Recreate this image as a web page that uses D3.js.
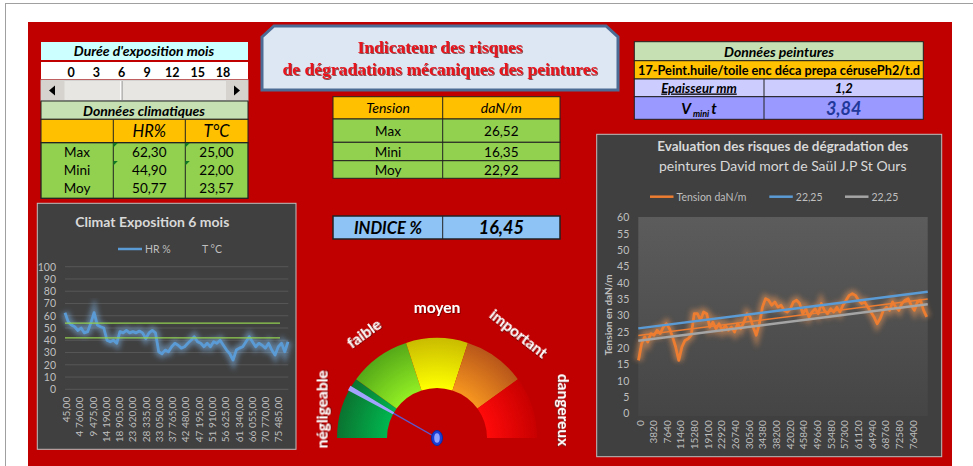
<!DOCTYPE html>
<html>
<head>
<meta charset="utf-8">
<script src="https://cdn.jsdelivr.net/npm/d3@7"></script>
<style>
  body { margin: 0; background: #fff; }
  svg text { font-family: Lato, "Noto Sans", sans-serif; }
  svg text.serif { font-family: "Liberation Serif", "DejaVu Serif", serif; }
</style>
</head>
<body>
<svg id="dash" width="973" height="466"></svg>
<script>
// ---- data ----
const expoMonths = [0, 3, 6, 9, 12, 15, 18];
const expoSelected = 6;

const climRows = ["Max", "Mini", "Moy"];
const climHR = [62.30, 44.90, 50.77];
const climT = [25.00, 22.00, 23.57];

const tensionRows = ["Max", "Mini", "Moy"];
const tensionVals = [26.52, 16.35, 22.92];
const indice = 16.45;

const paintName = "17-Peint.huile/toile enc déca prepa cérusePh2/t.d";
const epaisseur = 1.2;
const vMini = 3.84;

// climate chart (HR %)
const hrTicks = [45, 4760, 9475, 14190, 18905, 23620, 28335, 33050, 37765, 42480,
                 47195, 51910, 56625, 61340, 66055, 70770, 75485];
const hrSeries = [62.5, 55, 52.5, 51, 48, 50, 46, 47, 54, 62.5, 52.5, 51, 50, 40, 38.8, 40,
                  37.5, 47, 46, 48, 46, 47, 46, 47.5, 46, 41.5, 46, 48, 46, 30.6, 29, 32, 30.6,
                  34.7, 37.5, 36, 33.6, 34.7, 37.5, 40, 42.9, 38.8, 37.5, 34.7, 37.5, 34.7, 38.8,
                  37.5, 40, 36, 32, 29, 23.8, 32, 33.6, 34.7, 38.8, 42.9, 38.8, 34.7, 37.5, 36,
                  33.6, 37.5, 32, 27.9, 34.7, 37.5, 30.6, 38.8];
const hrLimits = [54, 42];

// tension chart
const tensionTicks = [0, 3820, 7640, 11460, 15280, 19100, 22920, 26740, 30560, 34380, 38200,
                      42020, 45840, 49660, 53480, 57300, 61120, 64940, 68760, 72580, 76400];
const tensionSeries = [16.2, 21.3, 23.4, 21.8, 24.4, 23.9, 25.4, 24.4, 26.4, 27.4, 25.9, 23.4,
                       20.3, 16.2, 20.3, 22.3, 22.8, 23.9, 30.5, 30.5, 28.5, 31, 30.5, 26.4, 27.9,
                       25.9, 27.4, 25.4, 26.9, 25.4, 26.4, 24.9, 27.4, 25.9, 27.9, 30.5, 29.5, 26.4,
                       23.9, 27.4, 32.5, 35.1, 34.6, 33.1, 34.1, 32.5, 33.1, 31.5, 31, 32, 34.1,
                       34.6, 33.6, 30.5, 32, 29.5, 31, 32, 30.5, 33.6, 31.5, 30.5, 32, 31, 32.5, 31,
                       33.1, 34.6, 36.1, 36.6, 36.1, 34.6, 33.6, 34.1, 32.5, 31, 29.5, 27.4, 29,
                       31.5, 32.5, 31.5, 34.1, 32.5, 31.5, 33.6, 34.6, 35.1, 33.1, 31.5, 34.1,
                       34.6, 31.5, 29.5];
const trendOrange = [23.8, 35.0];
const trendBlue = [26.0, 37.2];
const trendGray = [22.2, 33.4];
const trendName = "22,25";

const riskLabels = ["négligeable", "faible", "moyen", "important", "dangereux"];

// ---- helpers ----
const fr = d3.formatLocale({ decimal: ",", thousands: " ", grouping: [3], currency: ["", " €"] });
const f2 = fr.format(".2f");
const svg = d3.select("#dash");
const defs = svg.append("defs");

function label(x, y, s, o = {}) {
  return (o.g || svg).append("text")
    .attr("x", x).attr("y", y)
    .attr("text-anchor", o.anchor || "middle")
    .attr("font-size", o.size || 13)
    .attr("font-weight", o.weight || "normal")
    .attr("font-style", o.style || "normal")
    .attr("fill", o.fill || "#000")
    .text(s);
}
function box(x, y, w, h, fill, stroke, sw) {
  return svg.append("rect").attr("x", x).attr("y", y).attr("width", w).attr("height", h)
    .attr("fill", fill).attr("stroke", stroke || "none").attr("stroke-width", sw || 1);
}
function vline(x, y1, y2, c) {
  svg.append("line").attr("x1", x).attr("x2", x).attr("y1", y1).attr("y2", y2)
    .attr("stroke", c || "#222").attr("stroke-width", 1);
}

// glow filter for chart lines
defs.append("filter").attr("id", "glow").attr("x", "-10%").attr("y", "-30%")
  .attr("width", "120%").attr("height", "160%")
  .append("feGaussianBlur").attr("stdDeviation", 2.6);

// drop shadow for the red title and the gauge labels
defs.append("filter").attr("id", "tshadow")
  .append("feDropShadow").attr("dx", 1).attr("dy", 1).attr("stdDeviation", 0.5)
  .attr("flood-color", "#500000").attr("flood-opacity", 0.65);

// ---- background ----
svg.append("rect").attr("x", 5.5).attr("y", 3.5).attr("width", 1000).attr("height", 500)
  .attr("fill", "#fff").attr("stroke", "#a0a0a0");
box(28, 22, 924, 460, "#C00000");

// ---- exposure / climate table (top left) ----
box(41, 42, 207, 18, "#CCFFFF");
label(144, 56, "Durée d'exposition mois", { size: 14, weight: "bold", style: "italic" });
box(41, 62, 207, 17, "#fff");
const xMonth = d3.scaleLinear().domain([0, 18]).range([71, 223]);
svg.selectAll(".month").data(expoMonths).enter().append("text")
  .attr("x", d => xMonth(d)).attr("y", 77).attr("text-anchor", "middle")
  .attr("font-size", 12.5).attr("font-weight", "bold").text(d => d);

// scrollbar
box(41, 80, 207, 21, "#E8E6E3", "#BDBDBD");
box(41.5, 80.5, 23, 20, "#D6D3CE");
box(226, 80.5, 21.5, 20, "#D6D3CE");
svg.append("path").attr("d", "M49,90.5 l6,-5 v10 z").attr("fill", "#000");
svg.append("path").attr("d", "M240,90.5 l-6,-5 v10 z").attr("fill", "#000");
vline(xMonth(expoSelected) - 1, 81, 100, "#fff");
vline(xMonth(expoSelected) + 0.5, 81, 100, "#9E9E9E");

box(41, 101, 207, 18.3, "#C6E0B4", "#222");
label(144, 115.5, "Données climatiques", { size: 14, weight: "bold", style: "italic" });
box(41, 119.3, 207, 23.4, "#FFC000", "#222");
box(41, 142.7, 207, 55.6, "#92D050", "#222", 1.3);
vline(113.3, 119.3, 198.3);
vline(185.3, 119.3, 198.3);
label(149.3, 137, "HR%", { size: 16.5, style: "italic" });
label(216.5, 137, "T°C", { size: 16.5, style: "italic" });
climRows.forEach((r, i) => {
  const y = 156.7 + 18 * i;
  label(77, y, r, { size: 13.5 });
  label(149.3, y, f2(climHR[i]), { size: 13.5 });
  label(216.5, y, f2(climT[i]), { size: 13.5 });
});
[[113.3, 143], [185.3, 143], [113.3, 161], [185.3, 161]].forEach(([x, y]) =>
  svg.append("path").attr("d", `M${x},${y} h4.5 l-4.5,4.5 z`).attr("fill", "#127A22"));

// ---- title box ----
svg.append("polygon")
  .attr("points", "262,37 274,26 606,26 618,37 618,90 262,90")
  .attr("fill", "#DDE7F3").attr("stroke", "#4C6C96").attr("stroke-width", 3);
[["Indicateur des risques", 53, 165], ["de dégradations mécaniques des peintures", 75, 315]]
  .forEach(([s, y, w]) => {
    svg.append("text").attr("class", "serif")
      .attr("x", 440).attr("y", y).attr("text-anchor", "middle")
      .attr("font-weight", "bold").attr("font-size", 17.5).attr("fill", "#E8141C")
      .attr("filter", "url(#tshadow)")
      .attr("textLength", w).attr("lengthAdjust", "spacingAndGlyphs").text(s);
  });

// ---- tension table ----
box(333, 96.7, 227, 22.3, "#FFC000", "#222");
label(388, 113, "Tension", { size: 14, style: "italic" });
label(501.3, 113, "daN/m", { size: 14, style: "italic" });
const tRowTop = [119, 142.3, 160.7];
const tRowH = [23.3, 18.4, 17.6];
tensionRows.forEach((r, i) => {
  box(333, tRowTop[i], 227, tRowH[i], "#92D050", "#222");
  const y = tRowTop[i] + tRowH[i] / 2 + 5;
  label(388, y, r, { size: 13.5 });
  label(501.3, y, f2(tensionVals[i]), { size: 13.5 });
});
vline(442.7, 96.7, 178.3);

box(333, 216, 227, 23, "#8DC3F5", "#222", 1.5);
vline(442.7, 216, 239);
label(388, 233.5, "INDICE %", { size: 16.5, weight: "bold", style: "italic" });
label(501.3, 233.5, f2(indice), { size: 18, weight: "bold", style: "italic" });

// ---- paint data table (top right) ----
box(634.3, 41.7, 289, 19, "#C6E0B4", "#222");
label(779, 56.5, "Données peintures", { size: 14, weight: "bold", style: "italic" });
box(634.3, 60.7, 289, 18.3, "#FFC000", "#222");
label(779, 74.5, paintName, { size: 12.5, weight: "bold" })
  .attr("textLength", 282).attr("lengthAdjust", "spacingAndGlyphs");
box(634.3, 79, 289, 17.7, "#CCCCFF", "#222");
label(699, 92.5, "Epaisseur mm", { size: 13, weight: "bold", style: "italic" })
  .attr("text-decoration", "underline");
label(843.7, 92.5, fr.format(".1f")(epaisseur), { size: 13, weight: "bold", style: "italic" });
box(634.3, 96.7, 289, 22.6, "#9999FF", "#222");
const vt = label(699, 114, "V", { size: 15, weight: "bold", style: "italic" });
vt.append("tspan").attr("font-size", 9).attr("dy", 3).attr("dx", 2).text("mini");
vt.append("tspan").attr("dy", -3).attr("dx", 2).text("t");
label(843.7, 114.5, f2(vMini), { size: 18, weight: "bold", style: "italic", fill: "#22389A" });
vline(764, 79, 119.3);

// ---- climate chart ----
box(37.3, 203.3, 258.7, 246, "#404040", "#BFBFBF");
label(152.3, 227, "Climat Exposition 6 mois", { size: 14, weight: "bold", fill: "#D9D9D9" });
svg.append("line").attr("x1", 118).attr("x2", 142).attr("y1", 249).attr("y2", 249)
  .attr("stroke", "#5B9BD5").attr("stroke-width", 2.5);
label(145, 253, "HR %", { size: 10.5, anchor: "start", fill: "#BFBFBF" });
label(202, 253, "T °C", { size: 10.5, anchor: "start", fill: "#BFBFBF" });

const xHR = d3.scaleLinear().domain([45, 79030]).range([66, 288.3]);
const yHR = d3.scaleLinear().domain([0, 100]).range([389.3, 266.7]);
const iHR = d3.scaleLinear().domain([0, hrSeries.length - 1]).range([65, 288]);
const hrTickVals = d3.range(0, 101, 10);

svg.append("g").selectAll("line").data(hrTickVals).enter().append("line")
  .attr("x1", 65).attr("x2", 288.3).attr("y1", d => yHR(d)).attr("y2", d => yHR(d))
  .attr("stroke", "#575757").attr("stroke-width", 1);

const yAxL = svg.append("g").attr("transform", "translate(65,0)")
  .call(d3.axisLeft(yHR).tickValues(hrTickVals).tickSize(0).tickPadding(9));
yAxL.select(".domain").remove();
yAxL.selectAll("text").attr("font-size", 10.5).attr("fill", "#BFBFBF");

const xAxL = svg.append("g").attr("transform", "translate(0,389.3)")
  .call(d3.axisBottom(xHR).tickValues(hrTicks).tickSize(0).tickFormat(fr.format(",.2f")));
xAxL.select(".domain").remove();
xAxL.selectAll("text").attr("transform", "rotate(-90)").attr("text-anchor", "end")
  .attr("x", -7.5).attr("y", 0).attr("dy", "0.35em")
  .attr("font-size", 10).attr("fill", "#BFBFBF");

const hrLine = d3.line().x((d, i) => iHR(i)).y(d => yHR(d));
svg.append("path").datum(hrSeries).attr("d", hrLine).attr("fill", "none")
  .attr("stroke", "#7FB6EA").attr("stroke-width", 8).attr("opacity", 0.5).attr("filter", "url(#glow)");
svg.append("path").datum(hrSeries).attr("d", hrLine).attr("fill", "none")
  .attr("stroke", "#5B9BD5").attr("stroke-width", 2.8).attr("stroke-linejoin", "round");

svg.append("g").selectAll("line").data(hrLimits).enter().append("line")
  .attr("x1", 65).attr("x2", 280).attr("y1", d => yHR(d)).attr("y2", d => yHR(d))
  .attr("stroke", "#92D050").attr("stroke-width", 1.3);

// ---- tension chart ----
box(596.7, 134.3, 345, 322.4, "#404040", "#BFBFBF");
label(782.7, 151, "Evaluation des risques de dégradation des", { size: 13.5, weight: "bold", fill: "#D9D9D9" });
label(782.7, 171, "peintures David mort de Saül J.P St Ours", { size: 14, fill: "#D9D9D9" });

[["Tension daN/m", "#ED7D31", 650], [trendName, "#5B9BD5", 769.3], [trendName, "#A5A5A5", 845]]
  .forEach(([s, c, x]) => {
    svg.append("line").attr("x1", x).attr("x2", x + 23.5).attr("y1", 196.7).attr("y2", 196.7)
      .attr("stroke", c).attr("stroke-width", 2.5);
    label(x + 26.5, 200.5, s, { size: 10.5, anchor: "start", fill: "#BFBFBF" });
  });

const pg = defs.append("linearGradient").attr("id", "plotbg").attr("x1", 0).attr("x2", 0).attr("y1", 0).attr("y2", 1);
pg.append("stop").attr("offset", "0%").attr("stop-color", "#5C5C5C");
pg.append("stop").attr("offset", "100%").attr("stop-color", "#454545");
box(638.3, 217, 289.4, 199, "url(#plotbg)");

const xT = d3.scaleLinear().domain([0, 80600]).range([639.5, 927.7]);
const yT = d3.scaleLinear().domain([0, 60]).range([413.3, 217.3]);
const iT = d3.scaleLinear().domain([0, tensionSeries.length - 1]).range([638.5, 926.7]);

const yAxR = svg.append("g").attr("transform", "translate(638.3,0)")
  .call(d3.axisLeft(yT).tickValues(d3.range(0, 61, 5)).tickSize(0).tickPadding(9));
yAxR.select(".domain").remove();
yAxR.selectAll("text").attr("font-size", 10.5).attr("fill", "#BFBFBF");

const xAxR = svg.append("g").attr("transform", "translate(0,413.3)")
  .call(d3.axisBottom(xT).tickValues(tensionTicks).tickSize(0).tickFormat(d3.format("d")));
xAxR.select(".domain").remove();
xAxR.selectAll("text").attr("transform", "rotate(-90)").attr("text-anchor", "end")
  .attr("x", -7).attr("y", 0).attr("dy", "0.35em")
  .attr("font-size", 10).attr("fill", "#BFBFBF");

svg.append("text").attr("transform", "translate(612,315) rotate(-90)")
  .attr("text-anchor", "middle").attr("font-size", 10).attr("font-weight", "bold")
  .attr("fill", "#BFBFBF").text("Tension en daN/m");

const tLine = d3.line().x((d, i) => iT(i)).y(d => yT(d));
svg.append("path").datum(tensionSeries).attr("d", tLine).attr("fill", "none")
  .attr("stroke", "#F59A55").attr("stroke-width", 8).attr("opacity", 0.5).attr("filter", "url(#glow)");
svg.append("path").datum(tensionSeries).attr("d", tLine).attr("fill", "none")
  .attr("stroke", "#ED7D31").attr("stroke-width", 2.8).attr("stroke-linejoin", "round");

const trendLine = d3.line().x((d, i) => i ? 927.7 : 638.3).y(d => yT(d));
[[trendOrange, "#ED7D31", 1.5], [trendBlue, "#5B9BD5", 2.5], [trendGray, "#A5A5A5", 2.5]]
  .forEach(([d, c, w]) => svg.append("path").datum(d).attr("d", trendLine)
    .attr("stroke", c).attr("stroke-width", w).attr("fill", "none"));

// ---- gauge ----
const gauge = svg.append("g").attr("transform", "translate(437,438)");
const segColors = [["#00B64F", "#0B7330"], ["#92EE24", "#55A818"], ["#FFFF00", "#C9BC00"],
                   ["#F7961F", "#B8561A"], ["#FF0A0A", "#C80000"]];
const arc = d3.arc().innerRadius(50).outerRadius(100);
const segStep = Math.PI / riskLabels.length;
segColors.forEach(([inner, outer], i) => {
  const gr = defs.append("radialGradient").attr("id", "seg" + i)
    .attr("gradientUnits", "userSpaceOnUse").attr("cx", 0).attr("cy", 0).attr("r", 100);
  gr.append("stop").attr("offset", "50%").attr("stop-color", inner);
  gr.append("stop").attr("offset", "100%").attr("stop-color", outer);
});
gauge.selectAll(".seg").data(riskLabels).enter().append("path")
  .attr("d", (d, i) => arc({ startAngle: -Math.PI / 2 + i * segStep, endAngle: -Math.PI / 2 + (i + 1) * segStep }))
  .attr("fill", (d, i) => `url(#seg${i})`);

// needle
const needleAngle = d3.scaleLinear().domain([0, 100]).range([Math.PI, 0]);
const a = needleAngle(indice);
const ux = Math.cos(a), uy = -Math.sin(a), px = -uy, py = ux;
const pt = (r, w) => [r * ux + w * px, r * uy + w * py];
gauge.append("line").attr("x1", 0).attr("y1", 0).attr("x2", pt(55, 0)[0]).attr("y2", pt(55, 0)[1])
  .attr("stroke", "#5A5ACF").attr("stroke-width", 1.4);
gauge.append("polygon")
  .attr("points", [pt(50, -1.2), pt(101, -2.6), pt(101, 2.6), pt(50, 1.2)].map(p => p.join(",")).join(" "))
  .attr("fill", "#A3A3FF");
gauge.append("ellipse").attr("rx", 5.5).attr("ry", 7.5).attr("fill", "#1B3FD6").attr("stroke", "#0E2A9C");
gauge.append("ellipse").attr("rx", 2.8).attr("ry", 4.8).attr("fill", "#8FA2FF");

// risk labels around the gauge
const labelPlace = [[166, 118, -90], [125, 127, -36], [90, 130, 0], [52, 132, 38], [12.5, 129, 90]];
riskLabels.forEach((s, i) => {
  const [deg, r, rot] = labelPlace[i];
  const x = r * Math.cos(deg * Math.PI / 180), y = -r * Math.sin(deg * Math.PI / 180);
  gauge.append("text").attr("transform", `translate(${x},${y}) rotate(${rot})`)
    .attr("text-anchor", "middle").attr("dy", "0.35em")
    .attr("font-size", 15.5).attr("font-weight", "bold").attr("fill", "#fff")
    .attr("filter", "url(#tshadow)").text(s);
});
</script>
</body>
</html>
